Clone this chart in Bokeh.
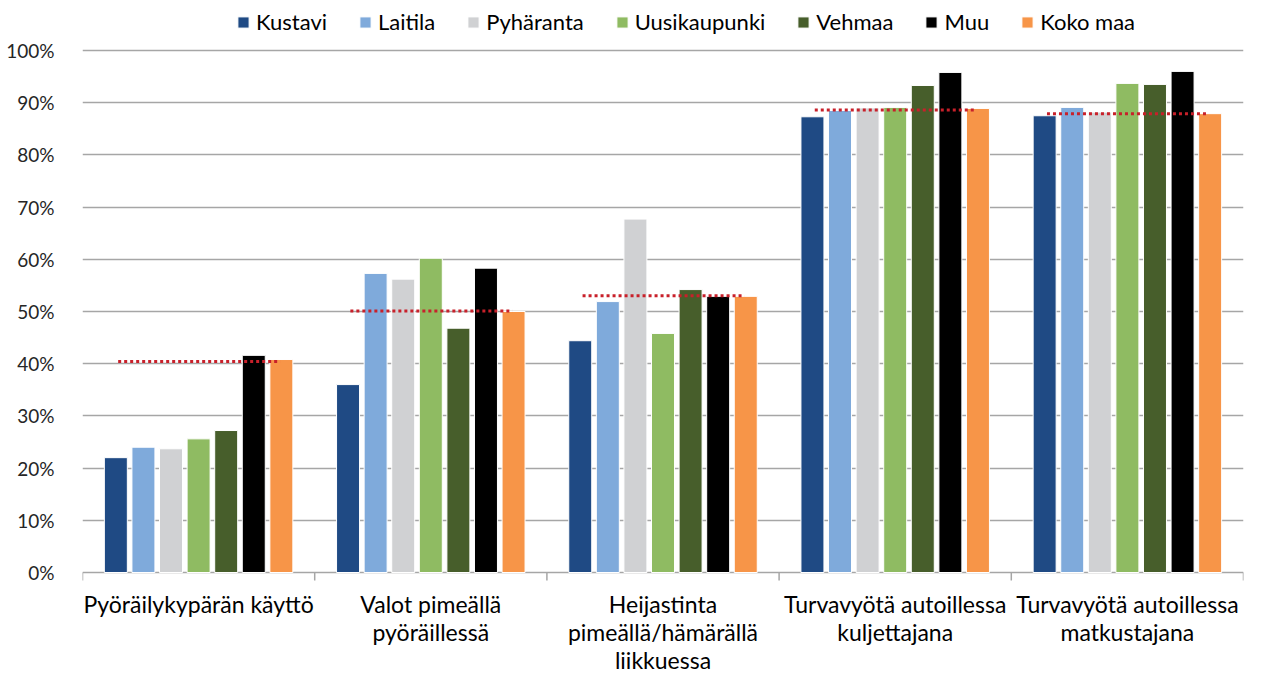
from bokeh.plotting import figure
from bokeh.models import ColumnDataSource, FixedTicker, Range1d, Legend, LegendItem
from bokeh.core.properties import value
from bokeh.embed import file_html
from bokeh.resources import INLINE

categories = [
    "Pyöräilykypärän käyttö",
    "Valot pimeällä\npyöräillessä",
    "Heijastinta\npimeällä/hämärällä\nliikkuessa",
    "Turvavyötä autoillessa\nkuljettajana",
    "Turvavyötä autoillessa\nmatkustajana",
]
series_names = ["Kustavi", "Laitila", "Pyhäranta", "Uusikaupunki", "Vehmaa", "Muu", "Koko maa"]
kustavi = [0.220, 0.360, 0.444, 0.873, 0.875]
laitila = [0.240, 0.573, 0.519, 0.885, 0.891]
pyharanta = [0.237, 0.562, 0.677, 0.890, 0.882]
uusikaupunki = [0.256, 0.602, 0.458, 0.891, 0.937]
vehmaa = [0.272, 0.468, 0.542, 0.933, 0.935]
muu = [0.416, 0.583, 0.529, 0.958, 0.960]
koko_maa = [0.408, 0.500, 0.529, 0.889, 0.879]
reference_line = [0.404, 0.501, 0.530, 0.886, 0.879]
series_values = [kustavi, laitila, pyharanta, uusikaupunki, vehmaa, muu, koko_maa]
colors = ["#1F4A84", "#7FAADB", "#D0D1D3", "#8FBB62", "#475E2B", "#000000", "#F79548"]
y_ticks = [0.0, 0.1, 0.2, 0.3, 0.4, 0.5, 0.6, 0.7, 0.8, 0.9, 1.0]
y_tick_labels = ["0%", "10%", "20%", "30%", "40%", "50%", "60%", "70%", "80%", "90%", "100%"]

FONT = "Lato"
group_x = [i + 1 for i in range(len(categories))]
pitch = 0.1188
bar_w = 0.099

p = figure(width=1265, height=673, output_backend="svg", toolbar_location=None, tools="",
           x_range=Range1d(0.5, 5.5), y_range=Range1d(-101 / 522, 572 / 522),
           min_border_left=82, min_border_right=22, min_border_top=0, min_border_bottom=0,
           x_axis_location=None)
p.outline_line_color = None
p.background_fill_color = "white"
p.border_fill_color = "white"

# y axis
p.yaxis.ticker = FixedTicker(ticks=y_ticks, minor_ticks=[])
p.yaxis.major_label_overrides = {t: l for t, l in zip(y_ticks, y_tick_labels)}
p.yaxis.axis_line_color = None
p.yaxis.major_tick_line_color = None
p.yaxis.minor_tick_line_color = None
p.yaxis.major_label_standoff = 22
p.yaxis.major_label_text_font = FONT
p.yaxis.major_label_text_font_size = "19px"
p.yaxis.major_label_text_color = "#262626"
p.ygrid.grid_line_color = "#A6A6A6"
p.ygrid.grid_line_width = 1.5
p.xgrid.grid_line_color = None

items = []
for j, (name, vals, col) in enumerate(zip(series_names, series_values, colors)):
    xs = [g + (j - 3) * pitch for g in group_x]
    src = ColumnDataSource(dict(x=xs, top=vals))
    r = p.vbar(x="x", top="top", width=bar_w, bottom=0, source=src,
               fill_color=col, line_color="white", line_width=1)
    items.append(LegendItem(label=name, renderers=[r]))

# reference dotted lines
p.segment(x0=[g - 3 * pitch + 0.01 for g in group_x], y0=reference_line,
          x1=[g + 3 * pitch - 0.005 for g in group_x], y1=reference_line,
          line_color="#C8202A", line_width=3, line_dash="3 3", line_cap="butt")

# category axis tick marks at group boundaries
bounds = [0.5 + i for i in range(len(categories) + 1)]
p.segment(x0=bounds, y0=[0] * len(bounds), x1=bounds, y1=[-8 / 522] * len(bounds),
          line_color="#A6A6A6", line_width=1.5)

# category labels
p.text(x=group_x, y=[0] * len(group_x), text=categories, y_offset=17,
       text_align="center", text_baseline="top", text_font=value(FONT),
       text_font_size="23px", text_line_height=1.01, text_color="#000000")

legend = Legend(items=items, orientation="horizontal", location=(154, 638),
                glyph_width=14, glyph_height=14, label_standoff=6, spacing=31,
                padding=0, margin=0, border_line_color=None, background_fill_alpha=0,
                label_text_font=FONT, label_text_font_size="22px", label_height=22,
                label_text_color="#000000")
p.add_layout(legend, "center")

open("out.html", "w").write(file_html(p, INLINE))
